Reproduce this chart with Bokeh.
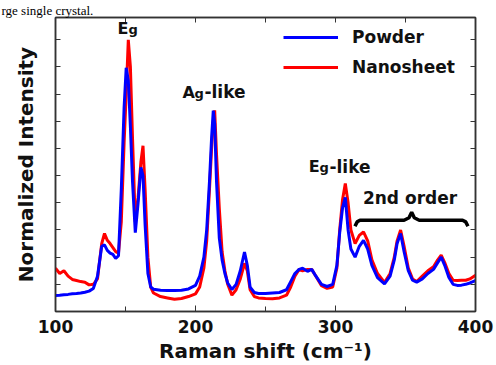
from bokeh.plotting import figure
from bokeh.models import Range1d, LinearAxis, FixedTicker, Label, Legend, LegendItem, Title
from bokeh.embed import file_html
from bokeh.resources import INLINE

# ---------------- data ----------------
raman_shift = [100, 103, 106, 109, 112, 115, 118, 121, 124, 127, 130, 133, 135, 137, 139,
               141, 143, 145, 147, 149, 150.5, 152, 153.5, 155, 157, 159, 161, 162.5, 164,
               166, 168, 170, 175, 180, 185, 190, 195, 200, 203, 206, 208, 210, 211.5,
               212.7, 213.7, 215, 217, 219, 221, 223, 226, 229, 232, 235, 237, 239, 242,
               245, 250, 255, 260, 265, 268, 271, 274, 276.5, 280, 283, 286, 290, 294,
               298, 301, 303, 305, 307, 309, 311, 314, 317, 320, 323, 326, 330, 335, 339,
               342, 344, 346.5, 349, 352, 355, 358, 362, 366, 370, 373, 375.5, 378, 381,
               384, 387, 390, 393, 396, 400]
powder = [0.059, 0.060, 0.062, 0.063, 0.065, 0.066, 0.068, 0.071, 0.075, 0.085, 0.130, 0.240,
          0.245, 0.225, 0.215, 0.210, 0.195, 0.205, 0.450, 0.750, 0.897, 0.850, 0.680, 0.480,
          0.290, 0.400, 0.530, 0.500, 0.320, 0.140, 0.090, 0.082, 0.078, 0.077, 0.077, 0.078,
          0.083, 0.096, 0.130, 0.200, 0.300, 0.480, 0.640, 0.739, 0.690, 0.480, 0.270, 0.190,
          0.140, 0.105, 0.081, 0.100, 0.150, 0.219, 0.170, 0.090, 0.070, 0.066, 0.066, 0.068,
          0.070, 0.080, 0.110, 0.140, 0.155, 0.159, 0.148, 0.155, 0.130, 0.100, 0.092, 0.100,
          0.170, 0.290, 0.380, 0.420, 0.300, 0.230, 0.200, 0.240, 0.262, 0.230, 0.170, 0.125,
          0.102, 0.130, 0.190, 0.250, 0.287, 0.220, 0.150, 0.115, 0.108, 0.120, 0.140, 0.155,
          0.180, 0.200, 0.170, 0.125, 0.100, 0.096, 0.097, 0.100, 0.105, 0.114]
nanosheet = [0.159, 0.140, 0.150, 0.130, 0.118, 0.114, 0.110, 0.108, 0.098, 0.100, 0.120, 0.250,
             0.287, 0.262, 0.250, 0.235, 0.220, 0.215, 0.330, 0.620, 0.800, 1.000, 0.900, 0.640,
             0.330, 0.420, 0.550, 0.610, 0.450, 0.200, 0.090, 0.068, 0.055, 0.050, 0.045, 0.048,
             0.055, 0.065, 0.090, 0.160, 0.260, 0.450, 0.600, 0.700, 0.740, 0.580, 0.380, 0.220,
             0.150, 0.100, 0.060, 0.080, 0.120, 0.177, 0.150, 0.080, 0.055, 0.050, 0.048, 0.047,
             0.050, 0.060, 0.090, 0.130, 0.155, 0.150, 0.155, 0.155, 0.130, 0.095, 0.085, 0.090,
             0.160, 0.300, 0.410, 0.471, 0.400, 0.300, 0.250, 0.280, 0.293, 0.260, 0.190, 0.140,
             0.107, 0.140, 0.200, 0.260, 0.300, 0.240, 0.160, 0.120, 0.110, 0.130, 0.150, 0.165,
             0.190, 0.207, 0.180, 0.140, 0.115, 0.114, 0.115, 0.115, 0.120, 0.133]

x_major_ticks = [100, 200, 300, 400]
x_minor_ticks = [150, 250, 350]
x_top_ticks = [150, 200, 250, 300, 350]
y_ticks = [0.1, 0.2, 0.3, 0.4, 0.5, 0.6, 0.7, 0.8, 0.9, 1.0]

# brace shape above the 2nd-order peaks (annotation geometry)
brace_x = [313.9, 315.5, 317.5, 349.0, 352.5, 354.4, 356.3, 359.8, 390.8, 393.0, 394.6]
brace_y = [0.314, 0.330, 0.336, 0.336, 0.345, 0.365, 0.345, 0.336, 0.336, 0.330, 0.314]

FONT = "DejaVu Sans"
INK = "#111111"
FRAME = "#333333"

p = figure(width=496, height=365, output_backend="svg", toolbar_location=None,
           x_range=Range1d(100, 400), y_range=Range1d(0, 1.082),
           min_border_left=55, min_border_right=21, min_border_top=0, min_border_bottom=54,
           x_axis_location=None, y_axis_location=None)
p.xgrid.visible = False
p.ygrid.visible = False
p.outline_line_color = FRAME
p.outline_line_width = 1.5
p.background_fill_color = "white"
p.border_fill_color = "white"

# cropped caption line of the source page, shown above the chart
p.title = Title(text="rge single crystal.", align="left", offset=-54, standoff=0,
                text_font="Liberation Serif", text_font_style="normal",
                text_font_size="13px", text_color="black")


def style_axis(ax):
    ax.axis_line_color = FRAME
    ax.axis_line_width = 1.5
    ax.major_tick_line_color = FRAME
    ax.minor_tick_line_color = FRAME
    ax.major_tick_line_width = 1
    ax.minor_tick_line_width = 1
    ax.major_tick_in = 6
    ax.major_tick_out = 0
    ax.minor_tick_in = 5
    ax.minor_tick_out = 0


bottom = LinearAxis(ticker=FixedTicker(ticks=x_major_ticks, minor_ticks=x_minor_ticks),
                    axis_label="Raman shift (cm⁻¹)")
style_axis(bottom)
bottom.major_label_text_font = FONT
bottom.major_label_text_font_style = "bold"
bottom.major_label_text_font_size = "17px"
bottom.major_label_text_color = INK
bottom.major_label_standoff = 8
bottom.axis_label_text_font = FONT
bottom.axis_label_text_font_style = "bold"
bottom.axis_label_text_font_size = "20px"
bottom.axis_label_text_color = INK
bottom.axis_label_standoff = 3
p.add_layout(bottom, "below")

top = LinearAxis(ticker=FixedTicker(ticks=[], minor_ticks=x_top_ticks))
style_axis(top)
top.major_label_standoff = 0
p.add_layout(top, "above")

left = LinearAxis(ticker=FixedTicker(ticks=[], minor_ticks=y_ticks),
                  axis_label="Normalized Intensity")
style_axis(left)
left.axis_label_text_font = FONT
left.axis_label_text_font_style = "bold"
left.axis_label_text_font_size = "20px"
left.axis_label_text_color = INK
left.axis_label_standoff = 18
p.add_layout(left, "left")

right = LinearAxis(ticker=FixedTicker(ticks=[], minor_ticks=y_ticks))
style_axis(right)
p.add_layout(right, "right")

red = p.line(raman_shift, nanosheet, line_color="#ff0000", line_width=3)
blue = p.line(raman_shift, powder, line_color="#0000ff", line_width=3)

p.line(brace_x, brace_y, line_color="black", line_width=3.5)

legend = Legend(items=[LegendItem(label="Powder", renderers=[blue]),
                       LegendItem(label="Nanosheet", renderers=[red])],
                location=(228, 234), padding=0, margin=0, spacing=10,
                glyph_width=55, glyph_height=20, label_height=20, label_standoff=14,
                label_text_font=FONT, label_text_font_style="bold",
                label_text_font_size="17px", label_text_color=INK,
                border_line_alpha=0, background_fill_alpha=0)
p.add_layout(legend)


def lab(x, y, text, size):
    p.add_layout(Label(x=x, y=y, text=text, text_font=FONT, text_font_style="bold",
                       text_font_size=size, text_color=INK, text_baseline="alphabetic",
                       text_align="left"))


# Eg
lab(144.3, 1.040, "E", "16px")
lab(152.1, 1.036, "g", "13px")
# Ag-like
lab(190.7, 0.806, "A", "16px")
lab(199.3, 0.802, "g", "13px")
lab(206.4, 0.806, "-like", "17px")
# Eg-like
lab(280.9, 0.533, "E", "16px")
lab(288.6, 0.529, "g", "13px")
lab(295.7, 0.533, "-like", "17px")
# 2nd order
lab(319.6, 0.418, "2nd order", "17px")

open("out.html", "w").write(file_html(p, INLINE))
